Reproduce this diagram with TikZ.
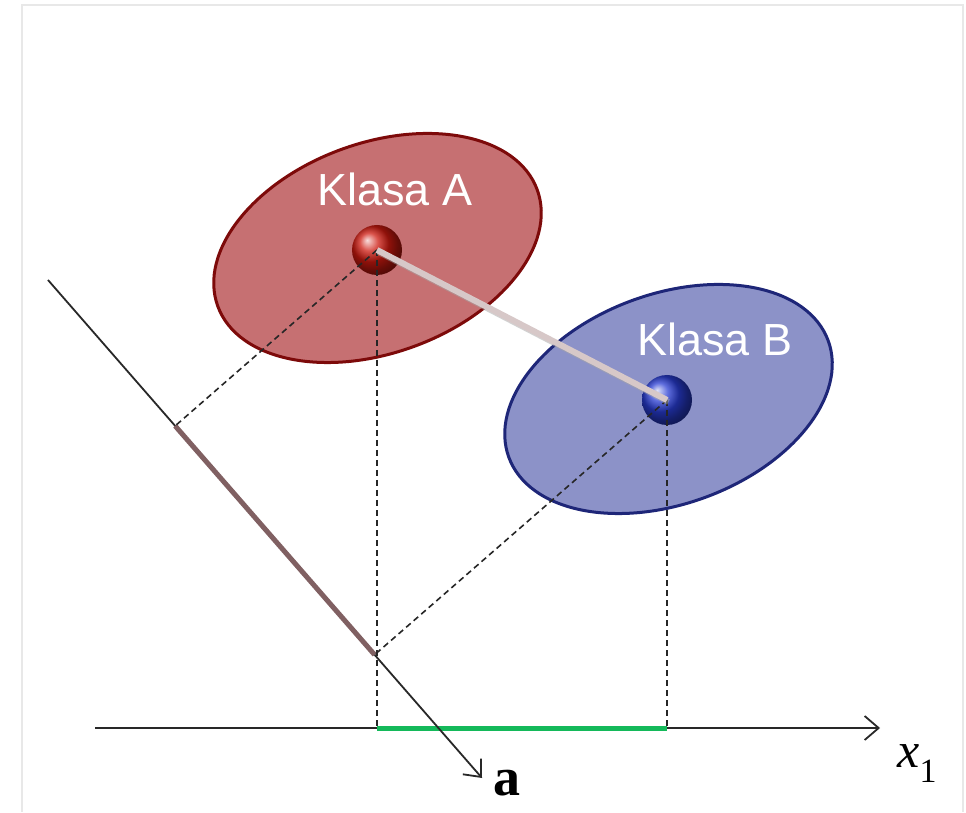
\documentclass[tikz,border=0pt]{standalone}
\usepackage{fontspec}
\setmainfont{Liberation Serif}
\newfontfamily\arialf{Liberation Sans}
\usetikzlibrary{arrows.meta,calc}
\definecolor{ellAfill}{RGB}{198,112,114}
\definecolor{ellAdraw}{RGB}{125,10,10}
\definecolor{ellBfill}{RGB}{140,146,200}
\definecolor{ellBdraw}{RGB}{30,38,120}
\definecolor{ballA}{RGB}{205,25,15}
\definecolor{ballB}{RGB}{40,60,210}
\definecolor{linkcol}{RGB}{215,200,200}
\definecolor{segbrown}{RGB}{128,96,98}
\definecolor{seggreen}{RGB}{20,185,90}
\definecolor{axiscol}{RGB}{40,40,40}
\definecolor{framecol}{RGB}{232,232,232}
\begin{document}
\begin{tikzpicture}[x=1pt,y=1pt,
  ellA/.style={fill=ellAfill, draw=ellAdraw, line width=3pt},
  ellB/.style={fill=ellBfill, draw=ellBdraw, line width=3pt},
  projdash/.style={black!85, line width=1.6pt, dash pattern=on 6pt off 4pt},
  axisline/.style={axiscol, line width=1.8pt},
  axisarrow/.style={axisline, -{Straight Barb[length=14pt,width=24pt,line width=1.8pt]}},
  classlabel/.style={text=white, font=\arialf\fontsize{45}{50}\selectfont, inner sep=0pt},
  mathlabel/.style={text=black, inner sep=0pt}
]
\useasboundingbox (0,0) rectangle (966,812);
\fill[white] (0,0) rectangle (966,812);
\draw[framecol, line width=2pt] (22,0) -- (22,807) -- (963,807) -- (963,0);

% key points
\coordinate (A) at (377,562);
\coordinate (B) at (667,412);
\coordinate (EA) at (377.5,564);
\coordinate (EB) at (668.5,413);
\coordinate (L0) at (48,532);
\coordinate (Ltip) at (482,34);
\coordinate (X0) at (95,84);
\coordinate (X1) at (880,84);
\coordinate (PA) at ($(L0)!(A)!(Ltip)$);
\coordinate (PB) at ($(L0)!(B)!(Ltip)$);
\coordinate (QA) at (A |- X0);
\coordinate (QB) at (B |- X0);

% class ellipses
\draw[ellA, rotate around={20:(EA)}] (EA) ellipse [x radius=170pt, y radius=105pt];
\draw[ellB, rotate around={20:(EB)}] (EB) ellipse [x radius=170pt, y radius=105pt];

% axes
\draw[axisarrow] (X0) -- (X1);
\draw[seggreen, line width=5pt] (QA) -- (QB);
\draw[axisarrow] (L0) -- (Ltip);
\draw[segbrown, line width=5pt] (PA) -- (PB);

% class means
\shade[ball color=ballA] (A) circle (25pt);
\shade[ball color=ballB] (B) circle (25pt);

% projections
\draw[projdash] (A) -- (PA);
\draw[projdash] (B) -- (PB);
\draw[projdash] (A) -- (QA);
\draw[projdash] (B) -- (QB);

% link between means
\draw[black!35, opacity=0.5, line width=6pt] ($(A)+(1.5,-2)$) -- ($(B)+(1.5,-2)$);
\draw[linkcol, line width=6pt] (A) -- (B);

% labels
\node[classlabel] (ka) at (395,623) {Klasa A};
\node[classlabel] (kb) at (715,473) {Klasa B};
\node[mathlabel, font=\fontsize{54}{58}\selectfont\bfseries] (alab) at (507,29) {a};
\node[mathlabel, font=\fontsize{50}{54}\selectfont] (xlab) at (917,48) {\itshape x\raisebox{-0.3em}{\upshape\fontsize{34}{36}\selectfont 1}};
\end{tikzpicture}
\end{document}
